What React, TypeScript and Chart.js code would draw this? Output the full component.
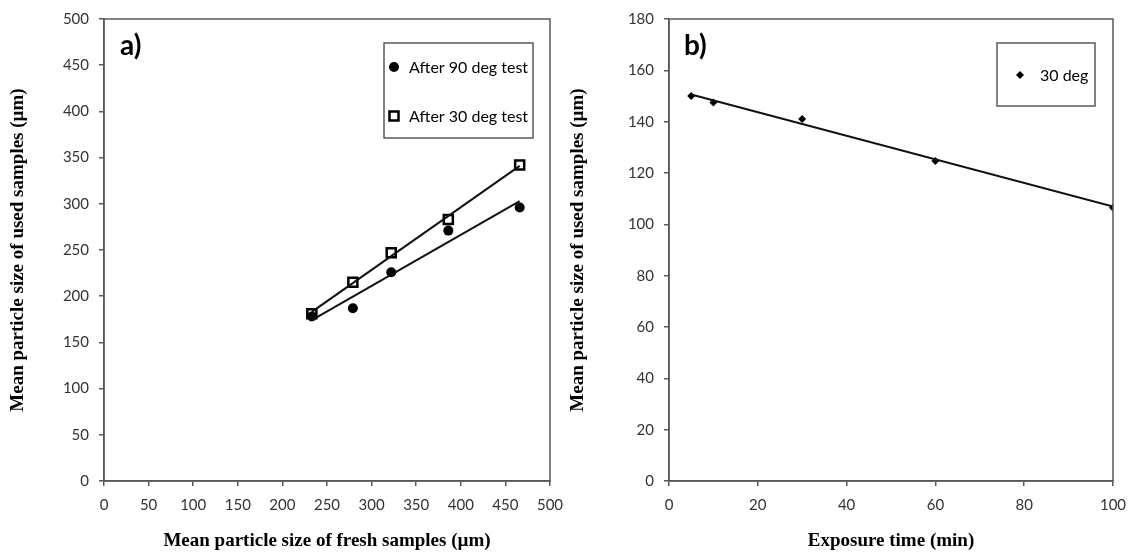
import React, { useEffect, useRef } from "react";
import { Chart, registerables } from "chart.js";

Chart.register(...registerables);

// ---- Panel a) data ----
const freshSize = [233, 279, 322, 386, 466];
const usedAfter90 = [178, 187, 226, 271, 296];
const usedAfter30 = [181, 215, 247, 283, 342];
const trendFreshX = [233, 466];
const trend90 = [174, 303];
const trend30 = [183, 341];
const legendA = ["After 90 deg test", "After 30 deg test"];

// ---- Panel b) data ----
const exposureTime = [5, 10, 30, 60, 100];
const used30deg = [150, 147.5, 141, 124.7, 106.5];
const trendTimeX = [5, 100];
const trendTime = [150.6, 106.9];
const legendB = ["30 deg"];

const yTitle = "Mean particle size of used samples (µm)";
const xTitleA = "Mean particle size of fresh samples (µm)";
const xTitleB = "Exposure time (min)";

const AXIS = "#595959";
const TICK_COLOR = "#333333";
const TICK_FONT = { family: "Lato", size: 15 };
const TITLE_FONT = { family: "Liberation Serif", size: 19, weight: "bold" as const };

const pts = (xs: number[], ys: number[]) => xs.map((x, i) => ({ x, y: ys[i] }));

function drawMarker(ctx: CanvasRenderingContext2D, style: string, x: number, y: number) {
  ctx.save();
  ctx.fillStyle = "#000";
  ctx.strokeStyle = "#000";
  if (style === "circle") {
    ctx.beginPath();
    ctx.arc(x, y, 5, 0, Math.PI * 2);
    ctx.fill();
  } else if (style === "rect") {
    ctx.lineWidth = 2.5;
    ctx.fillStyle = "#fff";
    ctx.beginPath();
    ctx.rect(x - 4.5, y - 4.5, 9, 9);
    ctx.fill();
    ctx.stroke();
  } else {
    ctx.beginPath();
    ctx.moveTo(x, y - 4);
    ctx.lineTo(x + 4, y);
    ctx.lineTo(x, y + 4);
    ctx.lineTo(x - 4, y);
    ctx.closePath();
    ctx.fill();
  }
  ctx.restore();
}

const decorPlugin = {
  id: "decor",
  afterDraw(chart: any, _args: any, opts: any) {
    const { ctx, chartArea: a } = chart;
    ctx.save();
    // frame around plot area
    ctx.strokeStyle = AXIS;
    ctx.lineWidth = 1.5;
    ctx.strokeRect(a.left, a.top, a.right - a.left, a.bottom - a.top);
    // panel label
    ctx.fillStyle = "#000";
    ctx.font = "bold 28px Lato";
    ctx.textBaseline = "middle";
    ctx.textAlign = "left";
    ctx.fillText(opts.label, opts.labelX, opts.labelY);
    // legend box
    const b = opts.box;
    ctx.fillStyle = "#fff";
    ctx.fillRect(b.x, b.y, b.w, b.h);
    ctx.strokeStyle = AXIS;
    ctx.lineWidth = 1.5;
    ctx.strokeRect(b.x, b.y, b.w, b.h);
    ctx.font = "16px Lato";
    ctx.fillStyle = "#000";
    opts.items.forEach((it: any, i: number) => {
      const y = b.firstY + i * opts.itemGap;
      drawMarker(ctx, it.style, b.x + opts.markerDx, y);
      ctx.fillText(it.label, b.x + opts.textDx, y + 1);
    });
    ctx.restore();
  },
};

function makeScales(xMin: number, xMax: number, xStep: number, yMin: number, yMax: number, yStep: number, xTitle: string, yPadTop: number, yWidth: number) {
  const grid = { display: true, drawOnChartArea: false, drawTicks: true, tickLength: 5, color: AXIS, lineWidth: 1.5 };
  const border = { display: true, color: AXIS, width: 1.5 };
  const noPad = (s: any) => {
    s.paddingLeft = 0;
    s.paddingRight = 0;
    s.paddingTop = 0;
    s.paddingBottom = 0;
  };
  return {
    x: {
      type: "linear" as const,
      min: xMin,
      max: xMax,
      ticks: { stepSize: xStep, font: TICK_FONT, color: TICK_COLOR, padding: 10, maxRotation: 0 },
      grid,
      border,
      title: { display: true, text: xTitle, font: TITLE_FONT, color: "#000", padding: { top: 0, bottom: 1.2 } },
      afterFit: (s: any) => {
        s.height = 73;
        noPad(s);
      },
    },
    y: {
      type: "linear" as const,
      min: yMin,
      max: yMax,
      ticks: { stepSize: yStep, font: TICK_FONT, color: TICK_COLOR, padding: 10 },
      grid,
      border,
      title: { display: true, text: yTitle, font: TITLE_FONT, color: "#000", padding: { top: yPadTop, bottom: 0 } },
      afterFit: (s: any) => {
        s.width = yWidth;
        noPad(s);
      },
    },
  };
}

function ChartA() {
  const ref = useRef<HTMLCanvasElement>(null);
  useEffect(() => {
    const chart = new Chart(ref.current!, {
      type: "scatter",
      data: {
        datasets: [
          {
            label: "trend90",
            type: "line",
            data: pts(trendFreshX, trend90),
            borderColor: "#111",
            borderWidth: 2,
            pointRadius: 0,
            showLine: true,
          } as any,
          {
            label: "trend30",
            type: "line",
            data: pts(trendFreshX, trend30),
            borderColor: "#111",
            borderWidth: 2,
            pointRadius: 0,
            showLine: true,
          } as any,
          {
            label: legendA[0],
            data: pts(freshSize, usedAfter90),
            pointStyle: "circle",
            pointRadius: 5,
            backgroundColor: "#000",
            borderColor: "#000",
            borderWidth: 0,
          },
          {
            label: legendA[1],
            data: pts(freshSize, usedAfter30),
            pointStyle: "rect",
            pointRadius: 6.4,
            backgroundColor: "#fff",
            borderColor: "#000",
            borderWidth: 2.5,
          },
        ],
      },
      options: {
        responsive: false,
        animation: false,
        layout: { padding: { top: 19, right: 15, left: 0, bottom: 0 } },
        plugins: {
          legend: { display: false },
          tooltip: { enabled: false },
          decor: {
            label: "a)",
            labelX: 120,
            labelY: 46,
            box: { x: 384, y: 43, w: 149, h: 95, firstY: 67 },
            itemGap: 49,
            markerDx: 10,
            textDx: 25,
            items: [
              { label: legendA[0], style: "circle" },
              { label: legendA[1], style: "rect" },
            ],
          },
        } as any,
        scales: makeScales(0, 500, 50, 0, 500, 50, xTitleA, 6.2, 104) as any,
      },
      plugins: [decorPlugin],
    });
    return () => chart.destroy();
  }, []);
  return <canvas ref={ref} width={565} height={554} />;
}

function ChartB() {
  const ref = useRef<HTMLCanvasElement>(null);
  useEffect(() => {
    const chart = new Chart(ref.current!, {
      type: "scatter",
      data: {
        datasets: [
          {
            label: "trend",
            type: "line",
            data: pts(trendTimeX, trendTime),
            borderColor: "#111",
            borderWidth: 2,
            pointRadius: 0,
            showLine: true,
          } as any,
          {
            label: legendB[0],
            data: pts(exposureTime, used30deg),
            pointStyle: "rectRot",
            pointRadius: 4,
            backgroundColor: "#000",
            borderColor: "#000",
            borderWidth: 0,
          },
        ],
      },
      options: {
        responsive: false,
        animation: false,
        layout: { padding: { top: 19, right: 16, left: 0, bottom: 0 } },
        plugins: {
          legend: { display: false },
          tooltip: { enabled: false },
          decor: {
            label: "b)",
            labelX: 119,
            labelY: 46,
            box: { x: 432, y: 43, w: 98, h: 63, firstY: 75 },
            itemGap: 0,
            markerDx: 23,
            textDx: 43,
            items: [{ label: legendB[0], style: "diamond" }],
          },
        } as any,
        scales: makeScales(0, 100, 20, 0, 180, 20, xTitleB, 1.2, 104) as any,
      },
      plugins: [decorPlugin],
    });
    return () => chart.destroy();
  }, []);
  return <canvas ref={ref} width={564} height={554} />;
}

export default function App() {
  return (
    <div style={{ position: "absolute", left: 0, top: 0, width: 1129, height: 554, background: "#fff" }}>
      <div style={{ position: "absolute", left: 0, top: 0, width: 565, height: 554 }}>
        <ChartA />
      </div>
      <div style={{ position: "absolute", left: 565, top: 0, width: 564, height: 554 }}>
        <ChartB />
      </div>
    </div>
  );
}
